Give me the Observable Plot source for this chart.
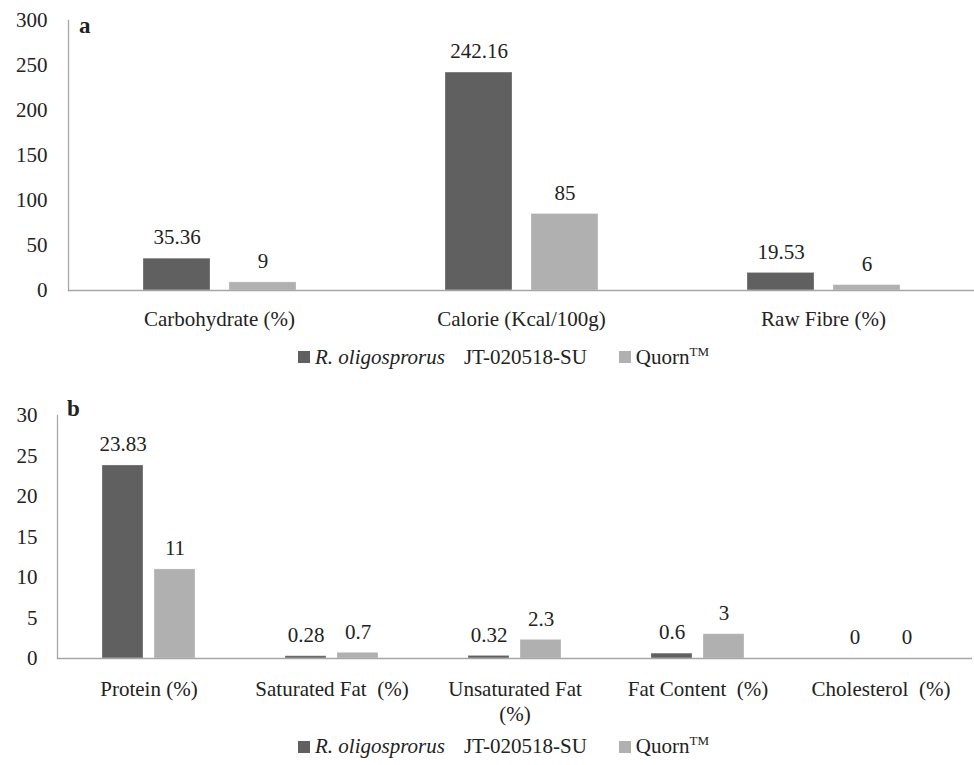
<!DOCTYPE html>
<html>
<head>
<meta charset="utf-8">
<script src="https://cdn.jsdelivr.net/npm/d3@7"></script>
<script src="https://cdn.jsdelivr.net/npm/@observablehq/plot@0.6"></script>
<style>
  html, body { margin: 0; padding: 0; background: #fff; }
  #root { position: relative; width: 974px; height: 765px; color: #222; font-family: 'Liberation Serif', 'Times New Roman', Tinos, serif; }
  .panel-letter { position: absolute; font-weight: bold; line-height: 1; }
  .legend { display: flex; align-items: center; white-space: pre; }
  .sw { display: inline-block; width: 12px; height: 12px; margin-right: 5px; }
  sup { vertical-align: 8px; line-height: 0; }
</style>
</head>
<body>
<div id="root"></div>
<script>
// ---- data ----
const series = ["R. oligosprorus JT-020518-SU", "Quorn\u2122"];
const seriesColors = ["#606060", "#b0b0b0"];

const categoriesA = ["Carbohydrate (%)", "Calorie (Kcal/100g)", "Raw Fibre (%)"];
const rhizopusA = [35.36, 242.16, 19.53];
const quornA = [9, 85, 6];
const yTicksA = [0, 50, 100, 150, 200, 250, 300];

const categoriesB = ["Protein (%)", "Saturated Fat\u00a0 (%)", "Unsaturated Fat\n(%)", "Fat Content\u00a0 (%)", "Cholesterol\u00a0 (%)"];
const rhizopusB = [23.83, 0.28, 0.32, 0.6, 0];
const quornB = [11, 0.7, 2.3, 3, 0];
const yTicksB = [0, 5, 10, 15, 20, 25, 30];

const FONT = "'Liberation Serif', 'Times New Roman', Tinos, serif";
const FS = 21;

function rows(cats, a, b) {
  const out = [];
  cats.forEach((c, i) => {
    out.push({cat: c, series: series[0], value: a[i]});
    out.push({cat: c, series: series[1], value: b[i]});
  });
  return out;
}

const axisColor = "#a6a6a6";

function panel(cats, data, yTicks, opts) {
  return Plot.plot({
    width: 974,
    height: opts.height,
    marginTop: opts.marginTop,
    marginBottom: opts.marginBottom,
    marginLeft: opts.marginLeft,
    marginRight: opts.marginRight,
    style: {fontFamily: FONT, fontSize: FS + "px", color: "#222", background: "white", overflow: "visible"},
    fx: {domain: cats, paddingInner: 0, paddingOuter: 0, label: null},
    x: {domain: series, paddingInner: 0.221, paddingOuter: 0.866, axis: null},
    y: {domain: [yTicks[0], yTicks[yTicks.length - 1]], label: null},
    color: {domain: series, range: seriesColors},
    marks: [
      Plot.barY(data, {fx: "cat", x: "series", y: "value", fill: "series", inset: 0, stroke: "white", strokeOpacity: 0.3, strokeWidth: 1}),
      Plot.ruleY([0], {stroke: axisColor, strokeWidth: 1.3}),
      Plot.frame({anchor: "left", facetAnchor: "left", stroke: axisColor, strokeWidth: 1.3}),
      Plot.text(data, {fx: "cat", x: "series", y: "value", text: d => String(d.value), lineAnchor: "middle", dy: -21, fill: "#222", fontSize: FS}),
      Plot.axisY({ticks: yTicks, tickSize: 0, tickPadding: opts.yPad, label: null, fontSize: FS, fill: "#222"}),
      Plot.axisFx({anchor: "bottom", tickSize: 0, tickPadding: opts.fxPad, label: null, fontSize: FS, lineHeight: 1.19, fill: "#222"})
    ]
  });
}

function legend(top, height) {
  const div = document.createElement("div");
  div.className = "legend";
  div.style.position = "absolute";
  div.style.left = "298px";
  div.style.top = top + "px";
  div.style.height = height + "px";
  div.style.fontSize = FS + "px";
  series.forEach((s, i) => {
    const sw = document.createElement("span");
    sw.className = "sw";
    sw.style.background = seriesColors[i];
    if (i > 0) sw.style.marginLeft = "32px";
    div.appendChild(sw);
    const t = document.createElement("span");
    if (i === 0) {
      const parts = s.split(" ");
      t.innerHTML = "<i>" + parts[0] + " " + parts[1] + "</i><span style=\"margin-left:19px\">" + parts.slice(2).join(" ") + "</span>";
    } else {
      t.innerHTML = s.replace("\u2122", "") + "<sup style=\"font-size:13px\">TM</sup>";
    }
    div.appendChild(t);
  });
  return div;
}

const root = document.getElementById("root");

const svgA = panel(categoriesA, rows(categoriesA, rhizopusA, quornA), yTicksA,
  {height: 340, marginTop: 20, marginBottom: 50, marginLeft: 68, marginRight: 0, yPad: 21, fxPad: 18});
svgA.style.position = "absolute"; svgA.style.left = "0px"; svgA.style.top = "0px";
root.appendChild(svgA);
root.appendChild(legend(338, 38));

const svgB = panel(categoriesB, rows(categoriesB, rhizopusB, quornB), yTicksB,
  {height: 350, marginTop: 37, marginBottom: 70, marginLeft: 56, marginRight: 2, yPad: 20, fxPad: 20});
svgB.style.position = "absolute"; svgB.style.left = "0px"; svgB.style.top = "378px";
root.appendChild(svgB);
root.appendChild(legend(728, 37));

const la = document.createElement("div");
la.className = "panel-letter"; la.textContent = "a";
la.style.fontSize = "23px";
la.style.left = "79px"; la.style.top = "14px";
root.appendChild(la);
const lb = document.createElement("div");
lb.className = "panel-letter"; lb.textContent = "b";
lb.style.fontSize = "23px";
lb.style.left = "67px"; lb.style.top = "397px";
root.appendChild(lb);

root.querySelectorAll("*").forEach(el => { el.style.fontFamily = FONT; });
</script>
</body>
</html>
